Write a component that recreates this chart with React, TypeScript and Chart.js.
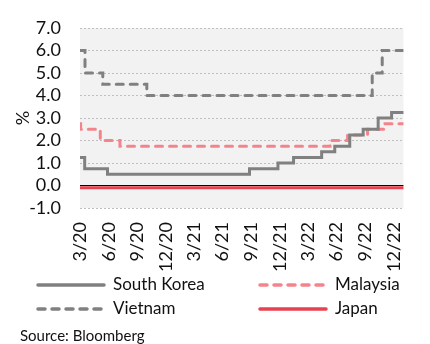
import React, { useEffect, useRef } from "react";
import { Chart, registerables } from "chart.js";

Chart.register(...registerables);

// Policy rate change dates and levels (step series)
const koreaDates = ["2020-03-01", "2020-03-16", "2020-05-28", "2021-08-26", "2021-11-25", "2022-01-14", "2022-04-14", "2022-05-26", "2022-07-13", "2022-08-25", "2022-10-12", "2022-11-24", "2023-01-01"];
const koreaRates = [1.25, 0.75, 0.5, 0.75, 1.0, 1.25, 1.5, 1.75, 2.25, 2.5, 3.0, 3.25, 3.25];

const malaysiaDates = ["2020-03-01", "2020-03-03", "2020-05-05", "2020-07-07", "2022-05-11", "2022-07-06", "2022-09-08", "2022-11-03", "2023-01-01"];
const malaysiaRates = [2.75, 2.5, 2.0, 1.75, 2.0, 2.25, 2.5, 2.75, 2.75];

const vietnamDates = ["2020-03-01", "2020-03-17", "2020-05-13", "2020-10-01", "2022-09-23", "2022-10-25", "2023-01-01"];
const vietnamRates = [6.0, 5.0, 4.5, 4.0, 5.0, 6.0, 6.0];

const japanDates = ["2020-03-01", "2023-01-01"];
const japanRates = [-0.1, -0.1];

const tickDates = ["2020-03-01", "2020-06-01", "2020-09-01", "2020-12-01", "2021-03-01", "2021-06-01", "2021-09-01", "2021-12-01", "2022-03-01", "2022-06-01", "2022-09-01", "2022-12-01"];
const tickLabels = ["3/20", "6/20", "9/20", "12/20", "3/21", "6/21", "9/21", "12/21", "3/22", "6/22", "9/22", "12/22"];

const xStart = "2020-03-01";
const xEnd = "2023-01-01";
const yMin = -1;
const yMax = 7;

const FONT = "Lato, 'Open Sans', sans-serif";
const GRAY = "#808080";
const PINK = "#f4848c";
const RED = "#e8414f";

const toPoints = (dates: string[], vals: number[]) =>
  dates.map((d, i) => ({ x: Date.parse(d), y: vals[i] }));

type LegendEntry = { label: string; color: string; dash: number[]; col: number; row: number };
const legendEntries: LegendEntry[] = [
  { label: "South Korea", color: GRAY, dash: [], col: 0, row: 0 },
  { label: "Malaysia", color: PINK, dash: [7, 7], col: 1, row: 0 },
  { label: "Vietnam", color: GRAY, dash: [7, 7], col: 0, row: 1 },
  { label: "Japan", color: RED, dash: [], col: 1, row: 1 },
];

const bgPlugin = {
  id: "plotBg",
  beforeDraw(chart: any) {
    const { ctx, chartArea } = chart;
    ctx.save();
    ctx.fillStyle = "#f2f2f2";
    ctx.fillRect(chartArea.left, chartArea.top, chartArea.right - chartArea.left, chartArea.bottom - chartArea.top);
    ctx.restore();
  },
};

const legendPlugin = {
  id: "customLegend",
  afterDraw(chart: any) {
    const { ctx } = chart;
    const colX = [36, 258];
    const rowY = [285, 309];
    ctx.save();
    legendEntries.forEach((e) => {
      const x = colX[e.col];
      const y = rowY[e.row];
      ctx.beginPath();
      ctx.strokeStyle = e.color;
      ctx.lineWidth = 3.5;
      ctx.lineCap = "round";
      ctx.setLineDash(e.dash);
      ctx.moveTo(x + 2, y);
      ctx.lineTo(x + 68, y);
      ctx.stroke();
      ctx.setLineDash([]);
      ctx.fillStyle = "#111";
      ctx.font = `17px ${FONT}`;
      ctx.textBaseline = "middle";
      ctx.textAlign = "left";
      ctx.fillText(e.label, x + 77, y);
    });
    ctx.font = `15px ${FONT}`;
    ctx.fillStyle = "#111";
    ctx.textBaseline = "middle";
    ctx.fillText("Source: Bloomberg", 20, 336);
    ctx.restore();
  },
};

export default function App() {
  const ref = useRef<HTMLCanvasElement | null>(null);

  useEffect(() => {
    if (!ref.current) return;
    const chart = new Chart(ref.current, {
      type: "line",
      data: {
        datasets: [
          {
            label: "South Korea",
            data: toPoints(koreaDates, koreaRates),
            borderColor: GRAY,
            borderWidth: 3,
            stepped: true,
            pointRadius: 0,
            borderCapStyle: "square",
          },
          {
            label: "Malaysia",
            data: toPoints(malaysiaDates, malaysiaRates),
            borderColor: PINK,
            borderWidth: 3,
            borderDash: [7, 7],
            borderCapStyle: "round",
            stepped: true,
            pointRadius: 0,
          },
          {
            label: "Vietnam",
            data: toPoints(vietnamDates, vietnamRates),
            borderColor: GRAY,
            borderWidth: 3,
            borderDash: [7, 7],
            borderCapStyle: "round",
            stepped: true,
            pointRadius: 0,
          },
          {
            label: "Japan",
            data: toPoints(japanDates, japanRates),
            borderColor: RED,
            borderWidth: 3,
            stepped: true,
            pointRadius: 0,
            borderCapStyle: "square",
          },
        ],
      },
      options: {
        responsive: false,
        animation: false,
        layout: { padding: { top: 17, right: 21, left: 0, bottom: 0 } },
        plugins: {
          legend: { display: false },
          tooltip: { enabled: false },
        },
        scales: {
          x: {
            type: "linear",
            min: Date.parse(xStart),
            max: Date.parse(xEnd),
            afterBuildTicks(scale: any) {
              scale.ticks = tickDates.map((d) => ({ value: Date.parse(d) }));
            },
            afterFit(scale: any) {
              scale.height = 136;
            },
            grid: { display: false, drawTicks: false },
            border: { display: false },
            ticks: {
              autoSkip: false,
              minRotation: 90,
              maxRotation: 90,
              padding: 14,
              color: "#111",
              font: { family: FONT, size: 18 },
              callback: (_v: any, i: number) => tickLabels[i],
            },
          },
          y: {
            min: yMin,
            max: yMax,
            afterFit(scale: any) {
              scale.width = 80;
            },
            grid: {
              drawTicks: false,
              color: (c: any) => (c.tick && c.tick.value === 0 ? "#000" : "#bfbfbf"),
              lineWidth: 1,
            },
            border: {
              display: false,
              dash: (c: any) => (c.tick && c.tick.value === 0 ? [] : [2, 2]),
            },
            ticks: {
              autoSkip: false,
              stepSize: 1,
              padding: 19,
              color: "#111",
              font: { family: FONT, size: 18, lineHeight: 1 },
              callback: (v: any) => Number(v).toFixed(1),
            },
            title: {
              display: true,
              text: "%",
              color: "#111",
              font: { family: FONT, size: 18 },
              padding: { top: 12, bottom: 0 },
            },
          },
        },
      } as any,
      plugins: [bgPlugin, legendPlugin],
    });
    return () => chart.destroy();
  }, []);

  return (
    <div style={{ position: "absolute", left: 0, top: 0, width: 430, height: 344 }}>
      <canvas ref={ref} width={430} height={344} style={{ display: "block" }} />
    </div>
  );
}
